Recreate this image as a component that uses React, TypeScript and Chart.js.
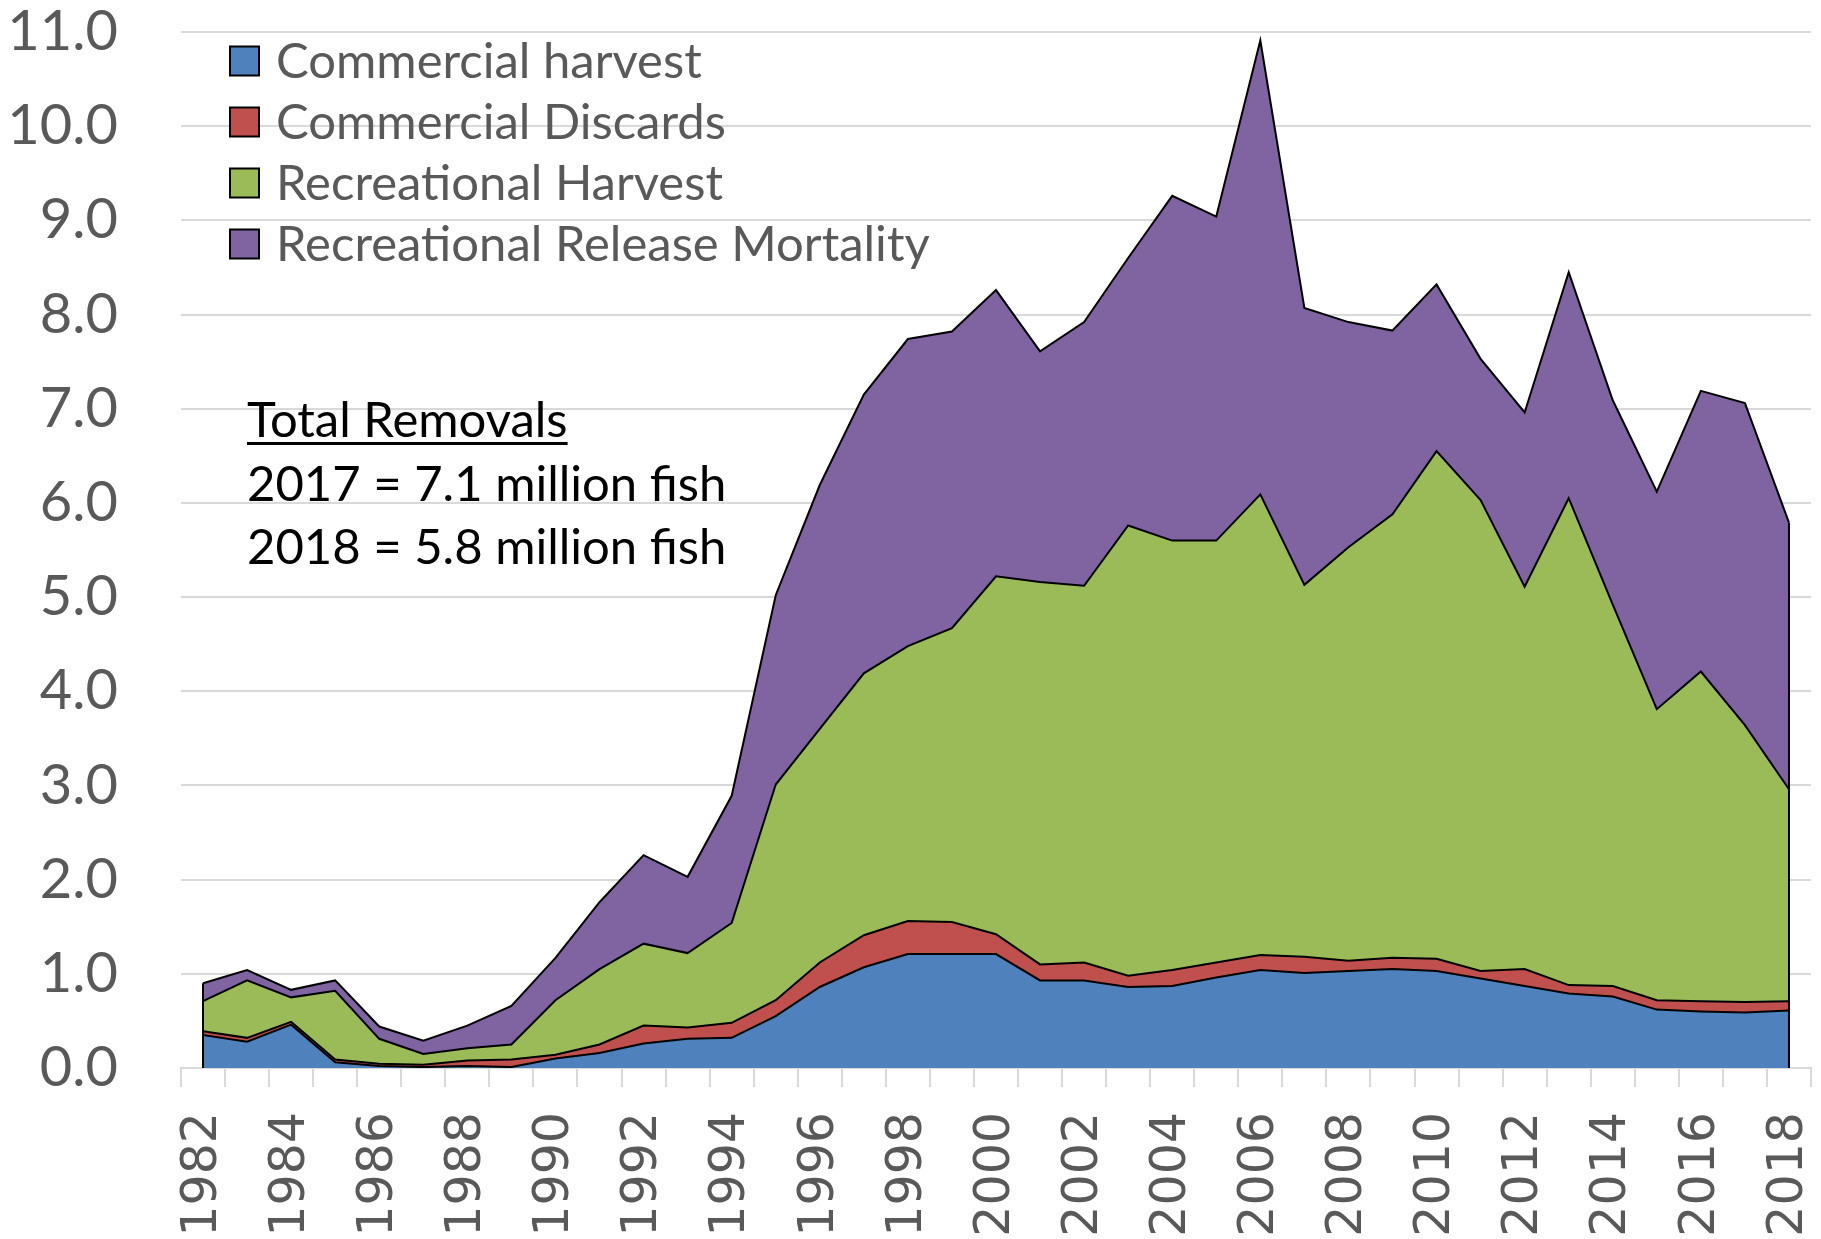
import React, { useEffect, useRef } from "react";
import { Chart, registerables } from "chart.js";

Chart.register(...registerables);

// ---- Data (million fish) ----
const years = [
  "1982", "1983", "1984", "1985", "1986", "1987", "1988", "1989", "1990", "1991",
  "1992", "1993", "1994", "1995", "1996", "1997", "1998", "1999", "2000", "2001",
  "2002", "2003", "2004", "2005", "2006", "2007", "2008", "2009", "2010", "2011",
  "2012", "2013", "2014", "2015", "2016", "2017", "2018",
];

const commercialHarvest = [
  0.35, 0.28, 0.46, 0.06, 0.02, 0.01, 0.02, 0.01, 0.10, 0.16,
  0.26, 0.31, 0.32, 0.55, 0.86, 1.07, 1.21, 1.21, 1.21, 0.93,
  0.93, 0.86, 0.87, 0.96, 1.04, 1.01, 1.03, 1.05, 1.03, 0.95,
  0.87, 0.79, 0.76, 0.62, 0.60, 0.59, 0.61,
];

const commercialDiscards = [
  0.04, 0.04, 0.03, 0.03, 0.025, 0.025, 0.06, 0.08, 0.04, 0.09,
  0.19, 0.12, 0.16, 0.17, 0.26, 0.34, 0.35, 0.34, 0.21, 0.17,
  0.19, 0.12, 0.17, 0.16, 0.16, 0.17, 0.11, 0.12, 0.13, 0.08,
  0.18, 0.09, 0.11, 0.10, 0.11, 0.11, 0.10,
];

const recreationalHarvest = [
  0.32, 0.61, 0.26, 0.73, 0.265, 0.115, 0.13, 0.16, 0.58, 0.80,
  0.87, 0.79, 1.06, 2.29, 2.48, 2.78, 2.92, 3.12, 3.80, 4.06,
  4.00, 4.78, 4.56, 4.48, 4.89, 3.95, 4.39, 4.71, 5.39, 5.00,
  4.06, 5.17, 4.05, 3.09, 3.50, 2.94, 2.25,
];

const recreationalReleaseMortality = [
  0.19, 0.11, 0.08, 0.11, 0.13, 0.14, 0.24, 0.41, 0.45, 0.71,
  0.94, 0.81, 1.35, 2.01, 2.59, 2.96, 3.26, 3.15, 3.04, 2.45,
  2.80, 2.84, 3.66, 3.44, 4.82, 2.94, 2.39, 1.95, 1.77, 1.50,
  1.85, 2.40, 2.17, 2.31, 2.98, 3.42, 2.83,
];

const seriesLabels = [
  "Commercial harvest",
  "Commercial Discards",
  "Recreational Harvest",
  "Recreational Release Mortality",
];

const seriesColors = ["#4F81BD", "#C0504D", "#9BBB59", "#8064A2"];

const annotationTitle = "Total Removals";
const annotationLines = ["2017 = 7.1 million fish", "2018 = 5.8 million fish"];

const yMin = 0;
const yMax = 11;
const yStep = 1;

// ---- Component ----
export default function App() {
  const canvasRef = useRef<HTMLCanvasElement | null>(null);

  useEffect(() => {
    document.body.style.margin = "0";
    const canvas = canvasRef.current;
    if (!canvas) return;

    const edgePlugin = {
      id: "areaEdges",
      afterDatasetsDraw(chart: any) {
        const ctx = chart.ctx;
        const n = chart.data.labels.length;
        const lastMeta = chart.getDatasetMeta(chart.data.datasets.length - 1);
        const y0 = chart.scales.y.getPixelForValue(0);
        ctx.save();
        ctx.strokeStyle = "#000";
        ctx.lineWidth = 2;
        [0, n - 1].forEach((i) => {
          const pt = lastMeta.data[i];
          ctx.beginPath();
          ctx.moveTo(pt.x, y0);
          ctx.lineTo(pt.x, pt.y);
          ctx.stroke();
        });
        ctx.restore();
      },
    };

    const overlayPlugin = {
      id: "legendAndNote",
      afterDraw(chart: any) {
        const ctx = chart.ctx;
        ctx.save();
        // legend
        const boxX = 230;
        const box = 29;
        const textX = 276;
        const firstY = 61;
        const rowH = 61;
        ctx.font = "49px Lato";
        ctx.textBaseline = "middle";
        ctx.textAlign = "left";
        chart.data.datasets.forEach((ds: any, i: number) => {
          const cy = firstY + i * rowH;
          ctx.fillStyle = ds.backgroundColor;
          ctx.fillRect(boxX, cy - box / 2, box, box);
          ctx.strokeStyle = "#000";
          ctx.lineWidth = 2;
          ctx.strokeRect(boxX, cy - box / 2, box, box);
          ctx.fillStyle = "#595959";
          ctx.fillText(ds.label, textX, cy + 1);
        });
        // annotation
        ctx.fillStyle = "#000";
        ctx.font = "49px Lato";
        const ax = 247;
        ctx.fillText(annotationTitle, ax, 421);
        const w = ctx.measureText(annotationTitle).width;
        ctx.fillRect(ax, 442, w, 3);
        annotationLines.forEach((t, i) => {
          ctx.fillText(t, ax, 485 + i * 63);
        });
        ctx.restore();
      },
    };

    const datasetsData = [
      commercialHarvest,
      commercialDiscards,
      recreationalHarvest,
      recreationalReleaseMortality,
    ];

    const chart = new Chart(canvas, {
      type: "line",
      data: {
        labels: years,
        datasets: datasetsData.map((d, i) => ({
          label: seriesLabels[i],
          data: d,
          backgroundColor: seriesColors[i],
          borderColor: "#000000",
          borderWidth: 2,
          pointRadius: 0,
          tension: 0,
          fill: i === 0 ? "origin" : "-1",
        })),
      },
      options: {
        responsive: false,
        animation: false,
        devicePixelRatio: 1,
        layout: { padding: { top: 32, right: 10, left: 0, bottom: 0 } },
        plugins: {
          legend: { display: false },
          tooltip: { enabled: false },
        },
        elements: { line: { borderJoinStyle: "miter" } },
        scales: {
          x: {
            type: "category",
            offset: true,
            grid: {
              offset: true,
              drawOnChartArea: false,
              drawTicks: true,
              tickLength: 19,
              color: "#D9D9D9",
              lineWidth: 2,
            },
            border: { display: true, color: "#D9D9D9", width: 2 },
            ticks: {
              autoSkip: false,
              minRotation: 90,
              maxRotation: 90,
              padding: 25,
              color: "#595959",
              font: { family: "DejaVu Sans", size: 49 },
              callback: (_v: any, idx: number) =>
                parseInt(years[idx], 10) % 2 === 0 ? years[idx] : "",
            },
            afterFit: (scale: any) => {
              scale.height = 171;
              scale.paddingLeft = 0;
              scale.paddingRight = 0;
            },
          },
          y: {
            stacked: true,
            min: yMin,
            max: yMax,
            grid: {
              drawTicks: false,
              color: "#D9D9D9",
              lineWidth: 2,
            },
            border: { display: false },
            ticks: {
              stepSize: yStep,
              padding: 63,
              color: "#595959",
              font: { family: "Lato", size: 56 },
              callback: (v: any) => Number(v).toFixed(1),
            },
            afterFit: (scale: any) => {
              scale.width = 181;
              scale.paddingTop = 0;
              scale.paddingBottom = 0;
            },
          },
        },
      },
      plugins: [edgePlugin, overlayPlugin],
    });

    return () => chart.destroy();
  }, []);

  return (
    <div style={{ position: "absolute", left: 0, top: 0, width: 1821, height: 1239 }}>
      <canvas
        ref={canvasRef}
        width={1821}
        height={1239}
        style={{ display: "block", width: 1821, height: 1239 }}
      />
    </div>
  );
}
